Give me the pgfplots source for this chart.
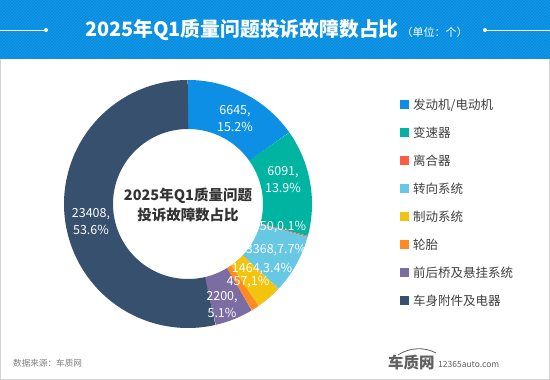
\documentclass[border=0pt]{standalone}
\usepackage{pgfplots}
\pgfplotsset{compat=1.18}
\usepackage{fontspec}
\setmainfont{Noto Sans CJK SC}
\usetikzlibrary{patterns}
\definecolor{c1}{HTML}{0D8FE5}
\definecolor{c2}{HTML}{00B4A2}
\definecolor{c3}{HTML}{FF5B47}
\definecolor{c4}{HTML}{67C8E4}
\definecolor{c5}{HTML}{F2C40F}
\definecolor{c6}{HTML}{FF8A1F}
\definecolor{c7}{HTML}{7B6CA2}
\definecolor{c8}{HTML}{37506D}
\definecolor{hdr}{HTML}{068EE0}
\definecolor{hdrs}{HTML}{1C99E6}
\definecolor{bord}{HTML}{D4D4D4}
\definecolor{legtxt}{HTML}{404040}
\definecolor{ctr}{HTML}{333333}
\definecolor{src}{HTML}{808080}
\definecolor{logo}{HTML}{606060}
% values (in thousands) of the complaints
\def\vA{6.645}\def\vB{6.091}\def\vC{0.050}\def\vD{3.368}
\def\vE{1.464}\def\vF{0.457}\def\vG{2.200}\def\vH{23.408}
\pgfmathsetmacro\total{\vA+\vB+\vC+\vD+\vE+\vF+\vG+\vH}
\pgfmathsetmacro\aA{0}
\pgfmathsetmacro\aB{\aA+360*\vA/\total}
\pgfmathsetmacro\aC{\aB+360*\vB/\total}
\pgfmathsetmacro\aD{\aC+360*\vC/\total}
\pgfmathsetmacro\aE{\aD+360*\vD/\total}
\pgfmathsetmacro\aF{\aE+360*\vE/\total}
\pgfmathsetmacro\aG{\aF+360*\vF/\total}
\pgfmathsetmacro\aH{\aG+360*\vG/\total}
\pgfmathsetmacro\aI{360}
\def\cx{188}\def\cy{176}\def\rm{99.5}
\begin{document}
\begin{tikzpicture}
\useasboundingbox (0,0) rectangle (550pt,380pt);
\begin{axis}[at={(0,0)}, anchor=south west, x=1pt, y=1pt,
  xmin=0, xmax=550, ymin=0, ymax=380, hide axis, clip=false,
  scale only axis]
% background
\fill[white] (0,0) rectangle (550,380);
\fill[hdr] (0,321) rectangle (550,380);
\fill[pattern=north east lines, pattern color=hdrs] (0,321) rectangle (550,380);
\draw[bord, line width=1pt] (0.5,321) -- (0.5,0.5) -- (549.5,0.5) -- (549.5,321);
% title
\draw[white, line width=0.8pt] (0,350) -- (46,350);
\fill[white] (46,350) circle[radius=2];
\draw[white, line width=0.8pt] (485,350) -- (550,350);
\fill[white] (485,350) circle[radius=2];
\node[anchor=base west, white, inner sep=0] at (85,343)
  {{\bfseries\fontsize{19.8}{19.8}\selectfont 2025年Q1质量问题投诉故障数占比}\hspace{3pt}{\fontsize{11}{11}\selectfont （单位：个）}};
% donut slices
\addplot[draw=c1, line width=49pt, domain=\aA:\aB, samples=60, variable=\t] ({\cx+\rm*sin(\t)},{\cy+\rm*cos(\t)});
\addplot[draw=c2, line width=49pt, domain=\aB:\aC, samples=60, variable=\t] ({\cx+\rm*sin(\t)},{\cy+\rm*cos(\t)});
\addplot[draw=c3, line width=49pt, domain=\aC:\aD, samples=5, variable=\t] ({\cx+\rm*sin(\t)},{\cy+\rm*cos(\t)});
\addplot[draw=c4, line width=49pt, domain=\aD:\aE, samples=40, variable=\t] ({\cx+\rm*sin(\t)},{\cy+\rm*cos(\t)});
\addplot[draw=c5, line width=49pt, domain=\aE:\aF, samples=20, variable=\t] ({\cx+\rm*sin(\t)},{\cy+\rm*cos(\t)});
\addplot[draw=c6, line width=49pt, domain=\aF:\aG, samples=10, variable=\t] ({\cx+\rm*sin(\t)},{\cy+\rm*cos(\t)});
\addplot[draw=c7, line width=49pt, domain=\aG:\aH, samples=30, variable=\t] ({\cx+\rm*sin(\t)},{\cy+\rm*cos(\t)});
\addplot[draw=c8, line width=49pt, domain=\aH:\aI, samples=150, variable=\t] ({\cx+\rm*sin(\t)},{\cy+\rm*cos(\t)});
% slice labels
\begin{scope}[every node/.style={white, inner sep=0, align=center, font=\fontsize{12.5}{17}\selectfont}]
\node at (235,261.5) {6645,\\15.2\%};
\node at (283,200) {6091,\\13.9\%};
\node at (283,153) {50,0.1\%};
\node at (276,130) {3368,7.7\%};
\node at (262,111) {1464,3.4\%};
\node at (248,98) {457,1\%};
\node at (222,75) {2200,\\5.1\%};
\node at (91,158) {23408,\\53.6\%};
\end{scope}
% centre text
\node[ctr, align=center, inner sep=0, font=\bfseries\fontsize{14.5}{20}\selectfont] at (188,175) {2025年Q1质量问题\\投诉故障数占比};
% legend
\begin{scope}[every node/.style={legtxt, anchor=west, inner sep=0, font=\fontsize{12.5}{12.5}\selectfont}]
\fill[c1] (400,270.5) rectangle (409,279.5); \node at (413,275) {发动机/电动机};
\fill[c2] (400,242.5) rectangle (409,251.5); \node at (413,247) {变速器};
\fill[c3] (400,214.5) rectangle (409,223.5); \node at (413,219) {离合器};
\fill[c4] (400,186.5) rectangle (409,195.5); \node at (413,191) {转向系统};
\fill[c5] (400,158.5) rectangle (409,167.5); \node at (413,163) {制动系统};
\fill[c6] (400,130.5) rectangle (409,139.5); \node at (413,135) {轮胎};
\fill[c7] (400,102.5) rectangle (409,111.5); \node at (413,107) {前后桥及悬挂系统};
\fill[c8] (400,74.5) rectangle (409,83.5); \node at (413,79) {车身附件及电器};
\end{scope}
% footer
\node[src, anchor=west, inner sep=0, font=\fontsize{8.6}{8.6}\selectfont] at (13,17) {数据来源：车质网};
\node[logo, anchor=west, inner sep=0, font=\bfseries\fontsize{15.5}{15.5}\selectfont] at (388,17) {车质网};
\node[logo, anchor=west, inner sep=0, font=\fontsize{8.5}{8.5}\selectfont] at (438,16) {12365auto.com};
\draw[logo, line width=0.8pt] (398,25) .. controls (410,33) and (425,33) .. (436,27);
\end{axis}
\end{tikzpicture}
\end{document}
